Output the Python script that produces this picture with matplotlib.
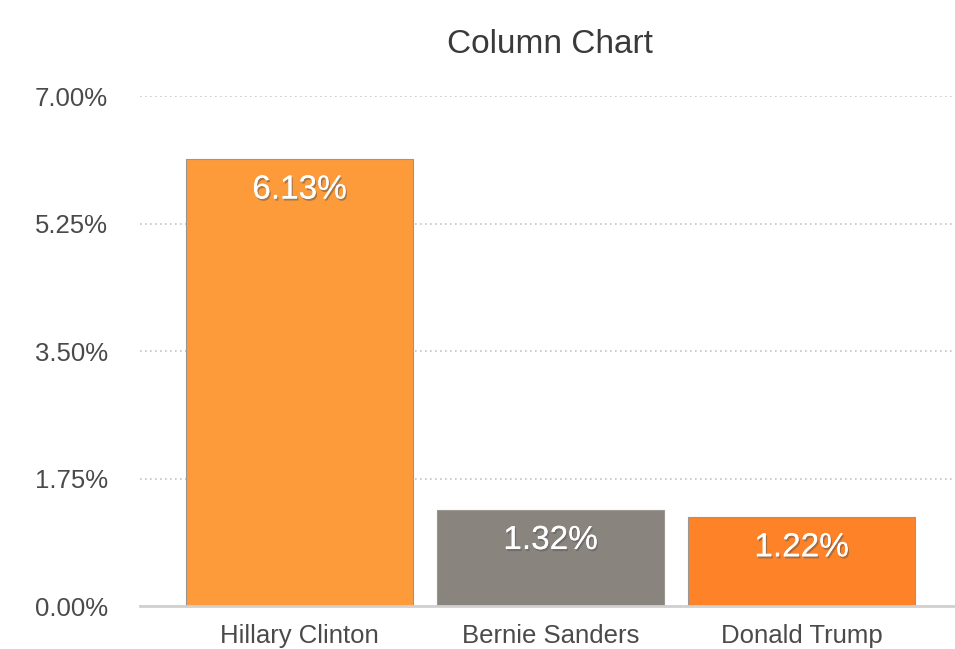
import matplotlib
matplotlib.use("Agg")
import matplotlib.pyplot as plt
import matplotlib.patheffects as pe
from matplotlib.ticker import FixedLocator

plt.rcParams['font.family'] = ['Liberation Sans', 'DejaVu Sans']

candidates = ["Hillary Clinton", "Bernie Sanders", "Donald Trump"]
shares = [6.13, 1.32, 1.22]
bar_colors = ["#FD9B3B", "#8A847F", "#FD8228"]
yticks = [0.0, 1.75, 3.5, 5.25, 7.0]

fig = plt.figure(figsize=(9.55, 6.49), dpi=100)
ax = fig.add_axes([0.1466, 0.066, 0.853, 0.786])

x = list(range(len(candidates)))
bars = ax.bar(x, shares, width=0.905, color=bar_colors,
              edgecolor="#9c9690", linewidth=0.8, zorder=3)

ax.set_xlim(-0.636, 2.61)
ax.set_ylim(0, 7.0)
ax.yaxis.set_major_locator(FixedLocator(yticks))
ax.set_yticklabels([f"{v:.2f}%" for v in yticks])
ax.set_xticks(x)
ax.set_xticklabels(candidates)

ax.grid(axis="y", color="#c4c4c4", linestyle=(0, (1, 2)), linewidth=1.2, zorder=0)
for s in ("top", "right", "left"):
    ax.spines[s].set_visible(False)
ax.spines["bottom"].set_color("#d0d0d0")
ax.spines["bottom"].set_linewidth(2)
ax.spines["bottom"].set_zorder(4)

ax.tick_params(axis="both", length=0, labelsize=18.5, labelcolor="#4a4a4a")
ax.tick_params(axis="y", pad=23)
ax.tick_params(axis="x", pad=13)

for b, v in zip(bars, shares):
    ax.annotate(f"{v:.2f}%", (b.get_x() + b.get_width() / 2, v),
                xytext=(0, -22), textcoords="offset points",
                ha="center", va="center", fontsize=24, color="white", zorder=5,
                path_effects=[pe.withSimplePatchShadow(offset=(1, -1.5), shadow_rgbFace="#555555", alpha=0.5),
                              pe.Normal()])

fig.text(0.576, 0.932, "Column Chart", ha="center", va="center",
         fontsize=24, color="#3a3a3a")

fig.savefig("out.png", dpi=100, facecolor="white")
